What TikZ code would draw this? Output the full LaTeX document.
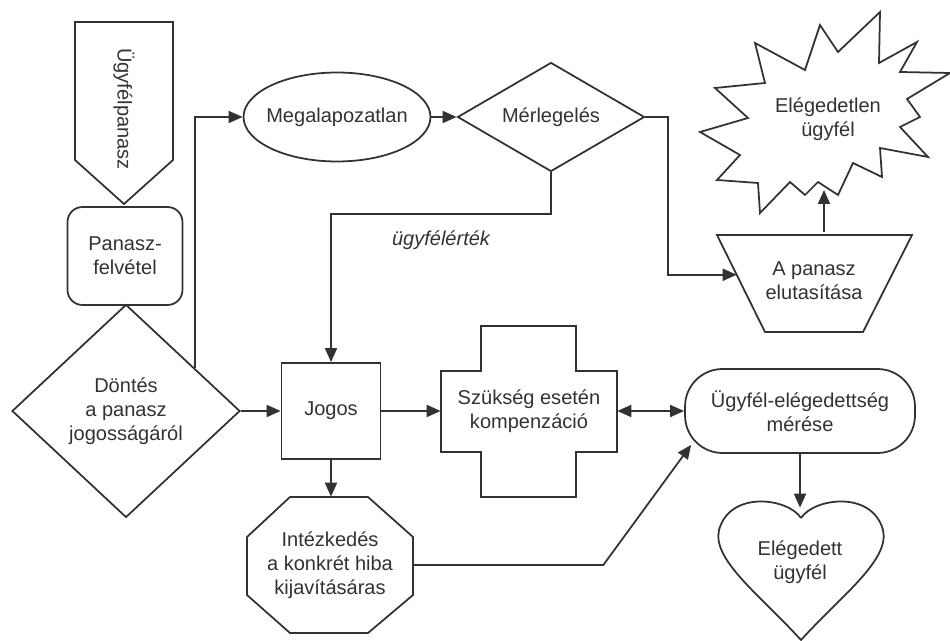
\documentclass[tikz,border=0pt]{standalone}
\usepackage{fontspec}
\setmainfont{Liberation Sans}
\usetikzlibrary{calc, shapes.geometric, arrows.meta, positioning}
\definecolor{linegray}{RGB}{50, 50, 50}

\begin{document}
\begin{tikzpicture}[
    x=0.02cm, y=-0.02cm,
    font=\fontsize{11.4}{13.7}\selectfont,
    shp/.style={draw=linegray, line width=1pt},
    box/.style={shp, rectangle, text=linegray, align=center},
    txt/.style={text=linegray, align=center, inner sep=0pt},
    lbl/.style={text=linegray, font=\fontsize{11.4}{13.7}\selectfont\itshape},
    arr/.style={draw=linegray, line width=1pt, -{Triangle[length=0.28cm, width=0.24cm]}},
    darr/.style={arr, {Triangle[length=0.28cm, width=0.24cm]}-{Triangle[length=0.28cm, width=0.24cm]}}
]
    \useasboundingbox (0,0) rectangle (950,641);

    % bal oszlop
    \draw [shp] (75,22) -- (173,22) -- (173,160) -- (124,204) -- (75,160) -- cycle;
    \node [txt, rotate=-90] (panasz) at (124,109) {Ügyfélpanasz};
    \node [box, rounded corners=0.3cm, minimum width=2.3cm, minimum height=1.96cm] (felvetel) at (125,256) {Panasz-\\felvétel};
    \node [box, diamond, minimum width=4.56cm, minimum height=4.26cm, inner sep=0pt] (dontes) at (126,411) {Döntés\\a panasz\\jogosságáról};

    % felso sor
    \node [box, ellipse, minimum width=3.74cm, minimum height=1.78cm, inner xsep=-0.1cm, inner ysep=0pt] (megalap) at (337,117) {Megalapozatlan};
    \node [box, diamond, aspect=1.7, minimum width=3.74cm, minimum height=2.18cm, inner sep=0pt] (merleg) at (551,117) {Mérlegelés};
    \node [txt, minimum width=3.9cm, minimum height=1.94cm] (elutasit) at (814,281) {A panasz\\elutasítása};
    \coordinate (tl) at (717,235);
    \coordinate (bl) at (765,332);
    \draw [shp] (tl) -- (912,235) -- (863,332) -- (bl) -- cycle;
    \node [txt] (elegedetlen) at (828,119) {Elégedetlen\\ügyfél};
    \draw [shp] (700,132) -- (748,118) -- (715,88) -- (765,83) -- (755,43) -- (805,70) -- (820,25) -- (838,52) -- (880,12) -- (879,63) -- (917,42) -- (900,72) -- (950,73) -- (907,99) -- (920,117) -- (900,127) -- (928,157) -- (880,148) -- (882,177) -- (853,163) -- (838,195) -- (818,182) -- (805,195) -- (790,182) -- (760,213) -- (758,183) -- (717,180) -- (740,155) -- cycle;
    \coordinate (csillag) at (824,190);

    % also sor
    \node [box, minimum width=1.98cm, minimum height=1.92cm] (jogos) at (331,411) {Jogos};
    \node [txt, minimum width=3.52cm, minimum height=1.62cm] (kompenz) at (529,411) {Szükség esetén\\kompenzáció};
    \draw [shp] (441,371) -- (481,371) -- (481,326) -- (576,326) -- (576,371) -- (617,371) -- (617,452) -- (576,452) -- (576,497) -- (481,497) -- (481,452) -- (441,452) -- cycle;
    \node [box, rounded corners=0.75cm, minimum width=4.6cm, minimum height=1.68cm] (meres) at (800,411) {Ügyfél-elégedettség\\mérése};
    \node [txt, minimum width=3.32cm, minimum height=2.72cm] (intezk) at (330,565) {Intézkedés\\a konkrét hiba\\kijavításáras};
    \draw [shp] (290,497) -- (368,497) -- (413,537) -- (413,595) -- (368,633) -- (290,633) -- (247,595) -- (247,537) -- cycle;
    \node [txt, minimum height=2.16cm] (elegedett) at (800,562) {Elégedett\\ügyfél};
    \draw [shp] (801,518) .. controls (788,498) and (730,490) .. (719,530) .. controls (712,560) and (760,595) .. (801,640) .. controls (842,595) and (890,560) .. (883,530) .. controls (872,490) and (814,498) .. (801,518);

    \coordinate (hajlat) at (331,214);

    \draw [arr] ($(dontes.north)!0.6!(dontes.east)$) |- (megalap.west);
    \draw [arr] (megalap) -- (merleg);
    \draw [arr] (merleg.south) |- node[lbl, pos=0.75, below=0.2cm] {ügyfélérték} (hajlat) -- (jogos.north);
    \draw [arr] (merleg.east) -- ++(23,0) |- ($(tl)!0.41!(bl)$);
    \draw [arr] (elutasit.north -| csillag) -- (csillag);
    \draw [arr] (dontes) -- (jogos);
    \draw [arr] (jogos) -- (kompenz);
    \draw [darr] (kompenz) -- (meres);
    \draw [arr] (jogos.south) -- (jogos.south |- intezk.north);
    \draw [arr] (intezk.east) -- ++(190,0) -- ([shift={(7,-9)}]meres.south west);
    \draw [arr] (meres) -- (elegedett);

\end{tikzpicture}
\end{document}
